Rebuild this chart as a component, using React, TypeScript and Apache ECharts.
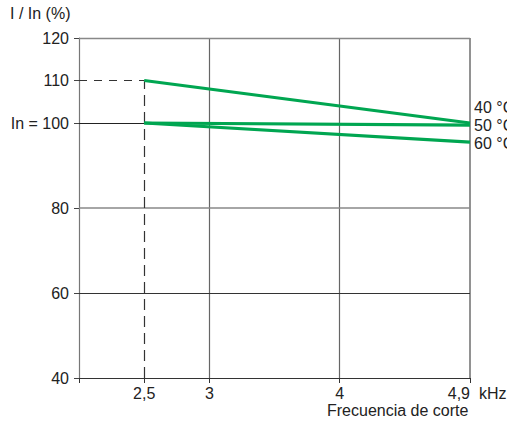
import React, { useEffect, useRef } from "react";
import * as echarts from "echarts";

// Frequencies (kHz) of the curve end points
const freqKHz = [2.5, 4.9];
// I / In (%) for each temperature
const curve40 = [110, 100];
const curve50 = [100, 99.5];
const curve60 = [100, 95.5];
const seriesNames = ["40 °C", "50 °C", "60 °C"];
// Axis ticks
const xTicks = [2.5, 3, 4, 4.9];
const yTicks = [40, 60, 80, 100, 110, 120];

// The reference axis is schematic: 4.9 kHz is drawn where 5 would fall.
const axisPos = (f: number) => (f <= 4 ? f : 4 + (f - 4) / 0.9);
const labelFromPos = (p: number) => {
  const f = p <= 4 ? p : 4 + (p - 4) * 0.9;
  return String(Math.round(f * 10) / 10).replace(".", ",");
};

const FONT = "Liberation Sans, Arial, Helvetica, sans-serif";
const TXT = "#222";
const GREEN = "#00A651";
const FS = 16;

export default function App() {
  const ref = useRef<HTMLDivElement>(null);
  useEffect(() => {
    if (!ref.current) return;
    const chart = echarts.init(ref.current, null, { renderer: "svg" });
    const xMin = 2;
    const xMax = axisPos(4.9);
    const pts = (vals: number[]) => freqKHz.map((f, i) => [axisPos(f), vals[i]]);
    const start = axisPos(freqKHz[0]);
    const mk = (color: string, width: number, type: any = "solid") => ({ color, width, type });

    const curves = [curve40, curve50, curve60];
    const offsets = [[0, -16], [0, 0], [0, 1]];

    chart.setOption({
      animation: false,
      textStyle: { fontFamily: FONT },
      grid: { left: 79, right: 37, top: 38, bottom: 45 },
      xAxis: {
        type: "value",
        min: xMin,
        max: xMax,
        splitLine: { show: false },
        axisLine: { lineStyle: { color: "#333", width: 1 } },
        axisTick: {
          customValues: [xMin, ...xTicks.map(axisPos)],
          length: 5,
          lineStyle: { color: "#333" },
        },
        axisLabel: {
          customValues: xTicks.map(axisPos),
          formatter: (v: number) => labelFromPos(v),
          color: TXT,
          fontSize: FS,
          fontFamily: FONT,
          margin: 7,
          alignMaxLabel: "right",
        },
      },
      yAxis: {
        type: "value",
        min: 40,
        max: 120,
        splitLine: { show: false },
        axisLine: { show: true, lineStyle: { color: "#777", width: 1.2 } },
        axisTick: {
          show: true,
          customValues: yTicks,
          length: 5,
          lineStyle: { color: "#444" },
        },
        axisLabel: {
          customValues: yTicks,
          formatter: (v: number) => (v === 100 ? "In = 100" : String(v)),
          color: TXT,
          fontSize: FS,
          fontFamily: FONT,
          margin: 10,
        },
      },
      graphic: [
        { type: "text", left: 10, top: 5, style: { text: "I / In (%)", fill: TXT, font: `${FS}px ${FONT}` } },
        { type: "text", left: 479, top: 385, style: { text: "kHz", fill: TXT, font: `${FS}px ${FONT}` } },
        { type: "text", left: 327, top: 402, style: { text: "Frecuencia de corte", fill: TXT, font: `${FS}px ${FONT}` } },
      ],
      series: [
        {
          type: "line",
          data: [],
          silent: true,
          z: 1,
          markLine: {
            silent: true,
            symbol: "none",
            label: { show: false },
            animation: false,
            data: [
              { xAxis: 3, lineStyle: mk("#666", 1.2) },
              { xAxis: 4, lineStyle: mk("#666", 1.2) },
              { xAxis: xMax, lineStyle: mk("#777", 1.6) },
              { yAxis: 60, lineStyle: mk("#333", 1) },
              { yAxis: 80, lineStyle: mk("#888", 1.6) },
              { yAxis: 120, lineStyle: mk("#888", 1.4) },
              [
                { coord: [xMin, curve40[0]], lineStyle: mk("#333", 1.2, [8, 7]) },
                { coord: [start, curve40[0]] },
              ],
              [
                { coord: [xMin, curve50[0]], lineStyle: mk("#222", 1.2) },
                { coord: [start, curve50[0]] },
              ],
              [
                { coord: [start, 40], lineStyle: mk("#333", 1.2, [11, 6]) },
                { coord: [start, curve40[0]] },
              ],
            ],
          },
        },
        ...curves.map((c, i) => ({
          name: seriesNames[i],
          type: "line",
          data: pts(c),
          z: 5,
          symbol: "none",
          lineStyle: { color: GREEN, width: 3.2 },
          endLabel: {
            show: true,
            formatter: seriesNames[i],
            color: TXT,
            fontSize: FS,
            fontFamily: FONT,
            distance: 4,
            offset: offsets[i],
          },
        })),
      ],
    });
    return () => chart.dispose();
  }, []);
  return (
    <div
      ref={ref}
      style={{ position: "fixed", left: 0, top: 0, width: 507, height: 423, background: "#fff" }}
    />
  );
}
